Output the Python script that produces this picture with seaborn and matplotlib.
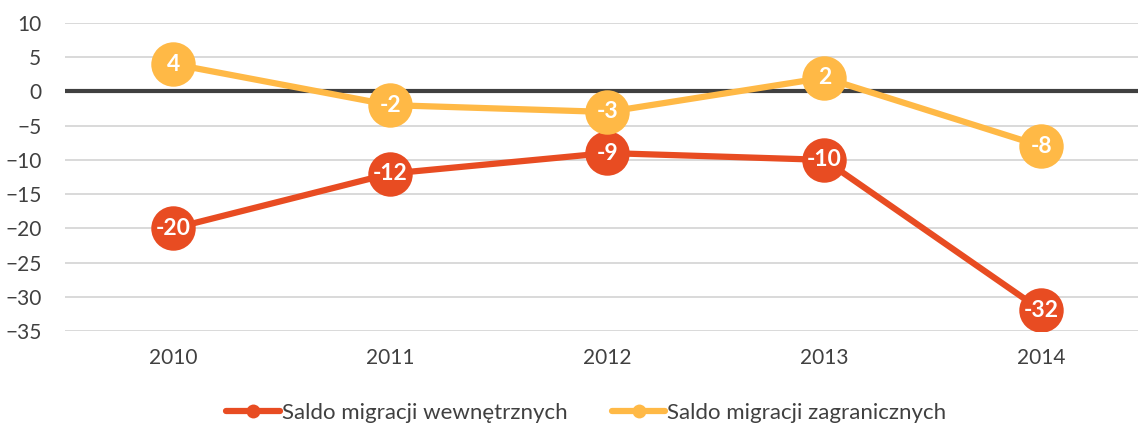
import matplotlib
matplotlib.use("Agg")
import matplotlib.pyplot as plt
import seaborn as sns
import pandas as pd

# Data
YEARS = ['2010', '2011', '2012', '2013', '2014']
SALDO_WEWN = [-20, -12, -9, -10, -32]
SALDO_ZAGR = [4, -2, -3, 2, -8]
SERIES = ['Saldo migracji wewnętrznych', 'Saldo migracji zagranicznych']
COLORS = ['#E84C22', '#FFB946']

df = pd.concat([
    pd.DataFrame({'Rok': YEARS, 'Saldo': SALDO_WEWN, 'Seria': SERIES[0]}),
    pd.DataFrame({'Rok': YEARS, 'Saldo': SALDO_ZAGR, 'Seria': SERIES[1]}),
])

sns.set_style('white')
plt.rcParams['font.family'] = ['Lato', 'DejaVu Sans']

fig = plt.figure(figsize=(11.38, 4.25), dpi=100)
ax = fig.add_axes([0.0571, 0.2212, 0.9429, 0.7247])

# grid first so lines sit on top
ax.set_ylim(-35, 10)
ax.set_yticks(range(-35, 11, 5))
ax.yaxis.grid(True, color='#d9d9d9', linewidth=1.4)
ax.set_axisbelow(True)
ax.axhline(0, color='#404040', linewidth=3, zorder=1.5)

sns.lineplot(data=df, x='Rok', y='Saldo', hue='Seria', palette=COLORS,
             marker='o', markersize=32, markeredgewidth=0, linewidth=4.5,
             ax=ax, zorder=3)

# value labels in the circles
for vals, name in [(SALDO_WEWN, SERIES[0]), (SALDO_ZAGR, SERIES[1])]:
    for i, v in enumerate(vals):
        ax.text(i, v, str(v), ha='center', va='center', color='white',
                fontsize=16.5, fontweight='bold', zorder=5)

ax.set_xlim(-0.5, 4.445)
ax.set_xlabel('')
ax.set_ylabel('')
ax.tick_params(axis='x', length=0, labelsize=15, colors='#404040', pad=12)
ax.tick_params(axis='y', length=0, labelsize=15, colors='#404040', pad=17)
for s in ax.spines.values():
    s.set_visible(False)

handles, labels = ax.get_legend_handles_labels()
leg = ax.legend(handles, labels, loc='center', bbox_to_anchor=(0.486, -0.266),
                ncol=2, frameon=False, fontsize=16, handlelength=2.4,
                handletextpad=0.1, columnspacing=2.0)
for line in leg.get_lines():
    line.set_markersize(10)
    line.set_linewidth(4.5)
for t in leg.get_texts():
    t.set_color('#404040')

fig.savefig('out.png', dpi=100)
